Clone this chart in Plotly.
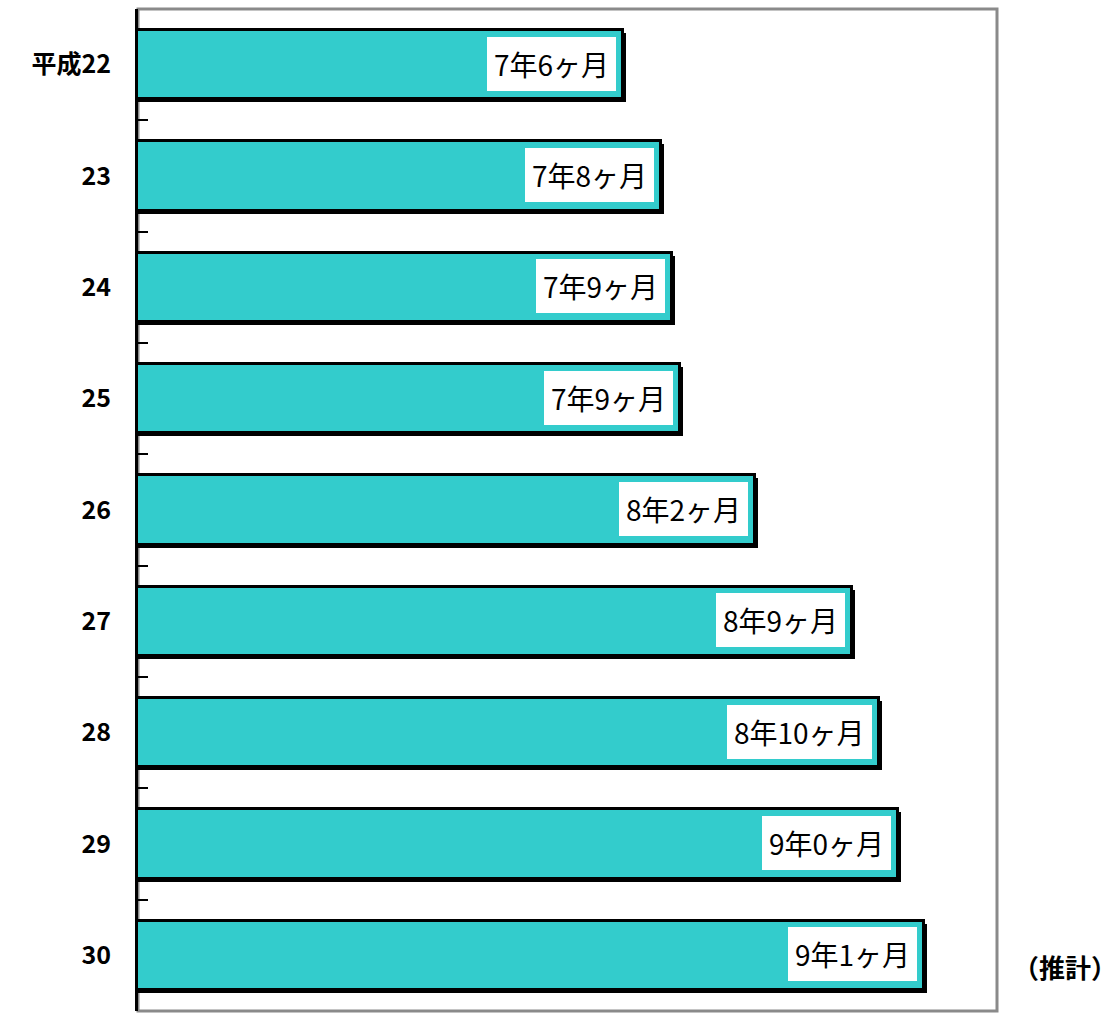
import plotly.graph_objects as go

categories = ["平成22", "23", "24", "25", "26", "27", "28", "29", "30"]
years = [7.54, 7.74, 7.80, 7.84, 8.23, 8.74, 8.88, 8.98, 9.12]
labels = ["7年6ヶ月", "7年8ヶ月", "7年9ヶ月", "7年9ヶ月", "8年2ヶ月",
          "8年9ヶ月", "8年10ヶ月", "9年0ヶ月", "9年1ヶ月"]
note = "（推計）"

X_MIN, X_MAX = 5.0, 9.5
W, H = 1117, 1013
L, R, T, B = 138, 120, 9, 2
px_per_x = (W - L - R) / (X_MAX - X_MIN)
px_per_cat = (H - T - B) / len(categories)
SH = 3
BAR_W = 0.62
FONT = "Noto Sans CJK JP"

shadow = go.Bar(
    y=categories, x=[v + SH / px_per_x for v in years], orientation="h",
    width=BAR_W, offset=-BAR_W / 2 + SH / px_per_cat,
    marker=dict(color="black", line=dict(width=0)), hoverinfo="skip", showlegend=False,
)
main = go.Bar(
    y=categories, x=years, orientation="h", width=BAR_W, offset=-BAR_W / 2,
    marker=dict(color="#33CCCC", line=dict(color="black", width=3)), showlegend=False,
)

fig = go.Figure([shadow, main])

annotations = []
for i, (v, t) in enumerate(zip(years, labels)):
    annotations.append(dict(
        x=v, y=i, xref="x", yref="y", text=t, showarrow=False,
        xanchor="right", yanchor="middle", xshift=-7, yshift=1,
        bgcolor="white", borderpad=7, borderwidth=0,
        font=dict(family=FONT, size=28, color="black"),
    ))
annotations.append(dict(
    x=(1064.5 - L) / (W - L - R), y=(H - B - 966) / (H - T - B), xref="paper", yref="paper",
    text=note, showarrow=False, xanchor="center", yanchor="middle",
    font=dict(family=FONT, size=26, color="black", weight="bold"),
))

fig.update_layout(
    width=W, height=H,
    margin=dict(l=L, r=R, t=T, b=B, pad=0),
    paper_bgcolor="white", plot_bgcolor="white",
    barmode="overlay", bargap=0,
    annotations=annotations,
    shapes=[dict(type="rect", xref="paper", yref="paper", x0=0, x1=1, y0=0, y1=1,
                 line=dict(color="#8a8a8a", width=3), layer="below")],
    xaxis=dict(range=[X_MIN, X_MAX], showticklabels=False, ticks="", showgrid=False,
               zeroline=False, showline=False),
    yaxis=dict(type="category", range=[len(categories) - 0.5, -0.5], showgrid=False,
               zeroline=False, showline=True, linecolor="black", linewidth=3,
               ticks="inside", tickson="boundaries", ticklen=10, tickwidth=2, tickcolor="black",
               ticklabelstandoff=19,
               tickfont=dict(family=FONT, size=25, color="black", weight="bold")),
)

fig.write_html("out.html")
